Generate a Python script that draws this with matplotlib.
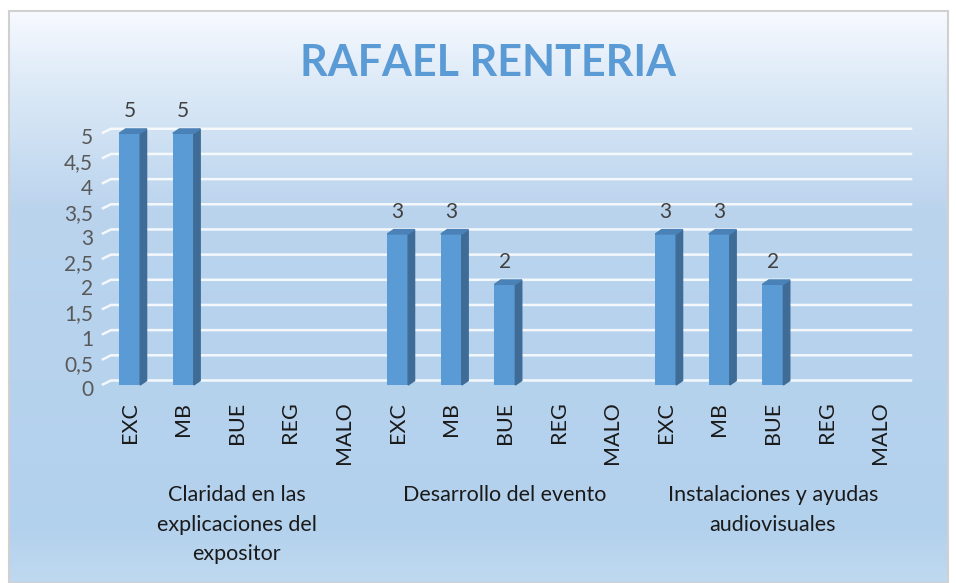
import numpy as np
import matplotlib
matplotlib.use("Agg")
import matplotlib.pyplot as plt
import matplotlib.transforms as mtransforms
from matplotlib.patches import Polygon, Rectangle

plt.rcParams['font.family'] = ['Lato', 'DejaVu Sans']

# data
title = "RAFAEL RENTERIA"
ratings = ["EXC", "MB", "BUE", "REG", "MALO"]
groups = ["Claridad en las\nexplicaciones del\nexpositor",
          "Desarrollo del evento",
          "Instalaciones y ayudas\naudiovisuales"]
claridad = [5, 5, 0, 0, 0]
desarrollo = [3, 3, 2, 0, 0]
instalaciones = [3, 3, 2, 0, 0]
y_ticks = [0, 0.5, 1, 1.5, 2, 2.5, 3, 3.5, 4, 4.5, 5]

values = claridad + desarrollo + instalaciones
labels = ratings * len(groups)

W, H = 956, 583
fig = plt.figure(figsize=(W / 100, H / 100), dpi=100)

# chart area background gradient
bg = fig.add_axes([9 / W, 0, (948 - 9) / W, (H - 11) / H])
stops = np.array([0.0, 0.12, 0.35, 0.9, 1.0])
cols = np.array([[0.97, 0.98, 1.00],
                 [0.87, 0.92, 0.97],
                 [0.73, 0.83, 0.93],
                 [0.70, 0.82, 0.93],
                 [0.75, 0.85, 0.94]])
t = np.linspace(0, 1, 300)
grad = np.stack([np.interp(t, stops, cols[:, k]) for k in range(3)], axis=1)
bg.imshow(grad[:, None, :], aspect='auto', extent=[0, 1, 0, 1])
bg.set_axis_off()
fig.patches.append(Rectangle((9 / W, 0), (948 - 9) / W, (H - 11) / H,
                             transform=fig.transFigure, fill=False,
                             edgecolor='#D0D0D0', linewidth=1.5))

ax = fig.add_axes([102.9 / W, (H - 385) / H, 804 / W, 251.7 / H])
ax.patch.set_visible(False)
for s in ax.spines.values():
    s.set_visible(False)
ax.set_xlim(-0.5, 14.5)
ax.set_ylim(0, 5)

# back-wall gridlines with a little floor diagonal on the left
gdx, gdy = 0.17, 0.09
for y in y_ticks:
    ax.plot([-0.52, -0.52 + gdx, 14.6], [y, y + gdy, y + gdy],
            color='white', lw=1.8, alpha=0.85, zorder=1, clip_on=False,
            solid_capstyle='butt')

# 3D-looking columns
bw, dx, dy = 0.39, 0.12, 0.087
front, side, top = '#5B9BD5', '#3E6C96', '#4A82B8'
x = np.arange(len(values))
for xi, v in zip(x, values):
    if v <= 0:
        continue
    ax.bar(xi, v, width=bw, color=front, zorder=3)
    r = xi + bw / 2
    l = xi - bw / 2
    ax.add_patch(Polygon([(r, 0), (r + dx, dy), (r + dx, v + dy), (r, v)],
                         closed=True, color=side, zorder=3, clip_on=False))
    ax.add_patch(Polygon([(l, v), (l + dx, v + dy), (r + dx, v + dy), (r, v)],
                         closed=True, color=top, zorder=3, clip_on=False))
    ax.annotate(str(v), (xi, v), xytext=(0, 16), textcoords='offset points',
                ha='center', va='center', fontsize=15, color='#404040',
                annotation_clip=False)

ax.set_yticks(y_ticks)
ax.set_yticklabels([f"{v:g}".replace('.', ',') for v in y_ticks],
                   fontsize=15, color='#595959')
ax.tick_params(axis='y', length=0, pad=7)
shift = mtransforms.ScaledTranslation(0, -3 / 100, fig.dpi_scale_trans)
for lab in ax.get_yticklabels():
    lab.set_transform(lab.get_transform() + shift)

ax.set_xticks(x)
ax.set_xticklabels(labels, rotation=90, fontsize=15.5, color='#1a1a1a')
ax.tick_params(axis='x', length=0, pad=12)

# group labels
for g, name in enumerate(groups):
    ax.text(g * 5 + 2, (385 - 485) / 251.7, name, transform=ax.get_xaxis_transform(),
            ha='center', va='top', multialignment='center', fontsize=15.5,
            color='#1a1a1a', linespacing=1.6)

fig.text(488 / W, 1 - 63 / H, title, ha='center', va='center', fontsize=31,
         fontweight='bold', color='#5B9BD5')

fig.savefig("out.png", dpi=100)
